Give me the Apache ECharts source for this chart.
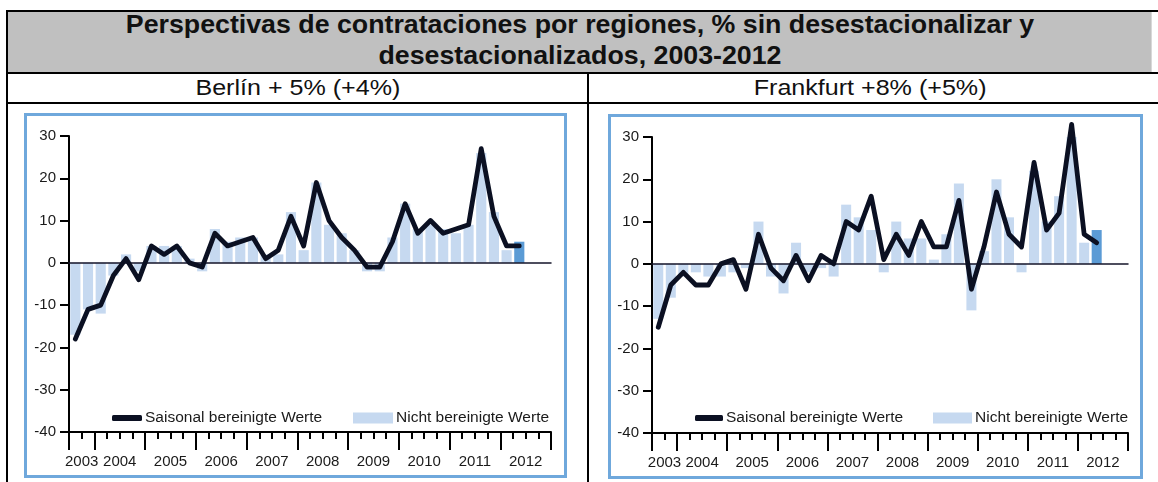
<!DOCTYPE html>
<html>
<head>
<meta charset="utf-8">
<script src="https://cdn.jsdelivr.net/npm/echarts@6/dist/echarts.min.js"></script>
<style>
  html, body { margin:0; padding:0; background:#fff; width:1158px; height:482px; overflow:hidden; font-family:"Liberation Sans", Arial, sans-serif; }
  .abs { position:absolute; }
  #chart { position:absolute; left:0; top:0; width:1158px; height:482px; }
  .ttl { transform:scaleX(1.07); transform-origin:center; }
  .hdr { display:inline-block; transform:scaleX(1.14); transform-origin:center; }
</style>
</head>
<body>
<!-- table frame -->
<div class="abs" style="left:8px;top:11px;width:1144px;height:62px;background:#c0c0c0;"></div>
<div class="abs" style="left:1151px;top:11px;width:1px;height:62px;background:#d8d8d8;"></div>
<div class="abs" style="left:6px;top:10px;width:1152px;height:2px;background:#000;"></div>
<div class="abs" style="left:6px;top:72px;width:1152px;height:2px;background:#000;"></div>
<div class="abs" style="left:6px;top:102px;width:1152px;height:2px;background:#000;"></div>
<div class="abs" style="left:6px;top:10px;width:2px;height:472px;background:#000;"></div>
<div class="abs" style="left:587px;top:72px;width:2px;height:410px;background:#000;"></div>
<div class="abs ttl" style="left:8px;top:9px;width:1144px;text-align:center;font-weight:bold;font-size:25px;line-height:31px;color:#111;">Perspectivas de contrataciones por regiones, % sin desestacionalizar y<br>desestacionalizados, 2003-2012</div>
<div class="abs" style="left:8px;top:74px;width:579px;height:28px;line-height:28px;text-align:center;font-size:22px;color:#111;"><span class="hdr">Berlín + 5% (+4%)</span></div>
<div class="abs" style="left:589px;top:74px;width:563px;height:28px;line-height:28px;text-align:center;font-size:22px;color:#111;"><span class="hdr">Frankfurt +8% (+5%)</span></div>
<!-- chart panels -->
<div class="abs" style="left:24px;top:113px;width:537px;height:359px;border:3px solid #6fa8dc;"></div>
<div class="abs" style="left:608px;top:114px;width:529px;height:359px;border:3px solid #6fa8dc;"></div>
<div id="chart"></div>
<script>
// ---- data ----
const yearLabels = ['2003','2004','2005','2006','2007','2008','2009','2010','2011','2012'];
const firstYearStartQuarter = 3; // series starts in 2003 Q3
const seriesNames = ['Saisonal bereinigte Werte', 'Nicht bereinigte Werte'];
const panelTitles = ['Berlín + 5% (+4%)', 'Frankfurt +8% (+5%)'];

const berlinSA  = [-18,-11,-10,-3,1,-4,4,2,4,0,-1,7,4,5,6,1,3,11,4,19,10,6,3,-1,-1,5,14,7,10,7,8,9,27,11,4,4];
const berlinNSA = [-17,-11,-12,-3,2,-2,4,4,4,1,-2,8,5,6,6,2,2,12,3,19,9,7,3,-2,-2,6,14,8,9,8,7,9,26,12,3,5];
const frankfurtSA  = [-15,-5,-2,-5,-5,0,1,-6,7,-1,-4,2,-4,2,0,10,8,16,1,7,2,10,4,4,15,-6,4,17,7,4,24,8,12,33,7,5];
const frankfurtNSA = [-13,-8,-3,-2,-3,-3,-2,-1,10,-3,-7,5,-2,-1,-3,14,11,8,-2,10,6,6,1,7,19,-11,3,20,11,-2,22,10,16,30,5,8];

const yMin = -40, yMax = 30, yStep = 10;

// ---- derived categories ----
const quarters = [];
yearLabels.forEach((y, yi) => {
  for (let q = (yi === 0 ? firstYearStartQuarter : 1); q <= 4; q++) quarters.push(y + ' Q' + q);
});
const nB = quarters.length + 1; // boundaries
const majorIdx = new Set([0, quarters.length]);
quarters.forEach((q, i) => { if (q.endsWith('Q1')) majorIdx.add(i); });
const boundaryLabels = new Array(nB).fill('');
yearLabels.forEach(y => {
  const idx = quarters.map((q, i) => q.startsWith(y) ? i : -1).filter(i => i >= 0);
  const c = (idx[0] + idx[idx.length - 1] + 1) / 2;
  boundaryLabels[c] = y;
});
const boundaryIdx = boundaryLabels.map((_, i) => String(i));

const FONT = 'Liberation Sans';
const INK = '#1a1a1a';
const LINE = '#0b1022';
const BAR = '#c6d9f0';
const BAR_LAST = '#5b9bd5';

const panels = [
  { grid:{left:69, top:136, width:482, height:296}, sa:berlinSA, nsa:berlinNSA,
    leg1:{left:112, w:30}, leg2:{left:353, w:40} },
  { grid:{left:652, top:137, width:476, height:296}, sa:frankfurtSA, nsa:frankfurtNSA,
    leg1:{left:695, w:28}, leg2:{left:933, w:39} }
];

const option = { animation:false, grid:[], xAxis:[], yAxis:[], series:[], legend:[] };
panels.forEach((p, g) => {
  option.grid.push(Object.assign({containLabel:false}, p.grid));
  // data axis (zero line)
  option.xAxis.push({ type:'category', gridIndex:g, data:quarters, boundaryGap:true, z:3,
    axisLine:{show:true, onZero:true, lineStyle:{color:'#14142a', width:1.5}},
    axisTick:{show:false}, axisLabel:{show:false}, splitLine:{show:false} });
  // minor ticks + bottom line
  option.xAxis.push({ type:'category', gridIndex:g, data:boundaryIdx, boundaryGap:false, position:'bottom',
    axisLine:{show:true, onZero:false, lineStyle:{color:'#000', width:2}},
    axisTick:{show:true, interval:0, length:7, lineStyle:{color:'#000', width:2}},
    axisLabel:{show:false}, splitLine:{show:false} });
  // major ticks + year labels
  option.xAxis.push({ type:'category', gridIndex:g, data:boundaryLabels, boundaryGap:false, position:'bottom',
    axisLine:{show:false, onZero:false},
    axisTick:{show:true, interval:(i) => majorIdx.has(i), length:18, lineStyle:{color:'#000', width:2}},
    axisLabel:{show:true, interval:0, margin:22, fontSize:15, color:INK, fontFamily:FONT},
    splitLine:{show:false} });
  option.yAxis.push({ type:'value', gridIndex:g, min:yMin, max:yMax, interval:yStep,
    axisLine:{show:true, onZero:false, lineStyle:{color:'#000', width:2}},
    axisTick:{show:true, length:9, lineStyle:{color:'#000', width:2}},
    axisLabel:{fontSize:15, color:INK, fontFamily:FONT, margin:13},
    splitLine:{show:false} });
  const barData = p.nsa.map((v, i) => i === p.nsa.length - 1 ? {value:v, itemStyle:{color:BAR_LAST}} : v);
  option.series.push({ type:'bar', name:seriesNames[1], xAxisIndex:3*g, yAxisIndex:g, data:barData,
    barWidth:'80%', itemStyle:{color:BAR}, z:2, clip:false });
  option.series.push({ type:'line', name:seriesNames[0], xAxisIndex:3*g, yAxisIndex:g, data:p.sa,
    symbol:'none', clip:false, lineStyle:{color:LINE, width:4.8, join:'round', cap:'round'}, itemStyle:{color:LINE}, z:4 });
  option.legend.push({ left:p.leg1.left, top:410, padding:0, selectedMode:false, itemGap:0,
    data:[{name:seriesNames[0], icon:'roundRect'}], itemWidth:p.leg1.w, itemHeight:6,
    textStyle:{fontSize:15.5, color:INK, fontFamily:FONT, padding:[0,0,0,-2]} });
  option.legend.push({ left:p.leg2.left, top:410, padding:0, selectedMode:false, itemGap:0,
    data:[{name:seriesNames[1], icon:'rect'}], itemWidth:p.leg2.w, itemHeight:11,
    itemStyle:{color:BAR},
    textStyle:{fontSize:15.5, color:INK, fontFamily:FONT, padding:[0,0,0,-2]} });
});

const chart = echarts.init(document.getElementById('chart'), null, {renderer:'canvas'});
chart.setOption(option);
</script>
</body>
</html>
